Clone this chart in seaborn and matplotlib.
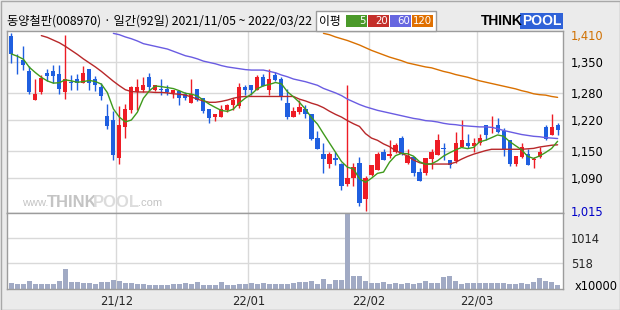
import numpy as np
import pandas as pd
import matplotlib
matplotlib.use("Agg")
import matplotlib.pyplot as plt
import seaborn as sns
from matplotlib.patches import Rectangle

# ---------------- data ----------------
title = "동양철판(008970) · 일간(92일) 2021/11/05 ~ 2022/03/22"

opens = [1408,1358,1354,1330,1263,1283,1324,1330,1323,1283,
         1305,1310,1301,1334,1310,1294,1229,1219,1134,1203,
         1242,1281,1287,1315,1287,1289,1289,1280,1285,1277,
         1257,1289,1269,1245,1227,1227,1242,1254,1251,1294,
         1298,1287,1315,1287,1319,1310,1258,1227,1238,1244,
         1233,1180,1144,1121,1135,1120,1077,1089,1124,1044,
         1097,1108,1148,1138,1147,1179,1123,1136,1103,1102,
         1133,1142,1156,1130,1128,1158,1168,1162,1168,1208,
         1201,1208,1194,1175,1121,1137,1144,1130,1137,1204,
         1187,1208]
highs = [1413,1368,1384,1341,1310,1319,1334,1343,1343,1409,
         1321,1322,1340,1334,1317,1302,1256,1239,1250,1256,
         1296,1310,1315,1324,1298,1310,1298,1287,1285,1283,
         1310,1289,1269,1245,1233,1254,1256,1269,1302,1298,
         1298,1319,1323,1334,1326,1315,1289,1248,1265,1254,
         1233,1194,1168,1148,1148,1123,1298,1124,1136,1095,
         1119,1148,1154,1175,1168,1184,1155,1136,1113,1135,
         1155,1189,1168,1130,1193,1220,1189,1179,1189,1208,
         1229,1224,1201,1175,1139,1168,1155,1137,1158,1208,
         1233,1213]
lows = [1347,1322,1332,1277,1263,1277,1306,1302,1277,1267,
        1287,1287,1301,1287,1284,1263,1199,1129,1121,1179,
        1235,1242,1281,1287,1285,1276,1275,1269,1252,1263,
        1257,1261,1236,1213,1218,1227,1238,1242,1246,1276,
        1276,1287,1296,1276,1306,1263,1221,1226,1233,1223,
        1174,1154,1101,1113,1118,1064,1072,1072,1028,1016,
        1095,1108,1129,1134,1145,1142,1121,1094,1082,1097,
        1109,1142,1129,1113,1123,1158,1156,1147,1164,1175,
        1190,1190,1138,1117,1117,1134,1118,1113,1134,1174,
        1187,1186]
closes = [1367,1357,1342,1283,1278,1314,1317,1317,1288,1310,
          1302,1302,1324,1301,1298,1273,1207,1142,1209,1245,
          1294,1294,1298,1293,1298,1287,1283,1287,1269,1269,
          1278,1263,1239,1224,1233,1244,1254,1264,1294,1287,
          1287,1315,1296,1310,1308,1272,1226,1240,1248,1232,
          1177,1154,1133,1144,1129,1073,1090,1115,1033,1090,
          1119,1144,1129,1144,1163,1144,1140,1102,1082,1135,
          1148,1175,1154,1118,1168,1175,1162,1168,1180,1186,
          1204,1192,1154,1121,1139,1159,1118,1131,1148,1178,
          1204,1198]
volumes = [110,100,90,150,95,95,100,100,150,390,
           135,130,110,110,100,145,140,185,165,115,
           110,100,105,75,85,85,80,95,100,110,
           105,130,80,80,80,130,75,70,105,100,
           110,105,110,100,95,100,100,110,130,130,
           150,95,190,95,170,180,1490,260,260,150,
           120,110,130,95,110,100,110,100,120,150,
           120,110,230,250,150,100,110,110,120,120,
           120,110,110,100,100,110,100,130,220,160,
           140,80]
ma20 = [None]*5 + [1408,1404,1398,1392,1384,
        1375,1366,1356,1347,1338,1328,1317,1306,1296,1287,
        1283,1282,1282,1282,1281,1281,1280,1278,1277,1275,
        1271,1266,1262,1259,1259,1261,1264,1268,1271,1272,
        1272,1272,1272,1272,1272,1272,1272,1272,1266,1262,
        1257,1253,1247,1239,1232,1226,1218,1211,1205,1189,
        1179,1174,1166,1160,1151,1145,1139,1130,1124,1121,
        1121,1121,1121,1121,1125,1132,1138,1143,1147,1151,
        1154,1154,1154,1154,1154,1154,1155,1156,1159,1161,
        1163,1164]
ma60 = [None]*17 + [1413,1410,1405,
        1401,1396,1390,1387,1384,1381,1378,1373,1368,1363,
        1360,1356,1351,1348,1345,1341,1338,1336,1334,1332,
        1331,1331,1331,1328,1325,1320,1316,1311,1308,1305,
        1301,1297,1290,1285,1280,1274,1266,1260,1254,1249,
        1245,1241,1238,1235,1232,1229,1226,1223,1221,1218,
        1217,1215,1212,1210,1209,1207,1206,1205,1204,1204,
        1203,1200,1196,1193,1190,1187,1185,1183,1182,1180,
        1179,1178]
ma120 = [None]*52 + [1413,1410,1405,1401,1397,1392,1387,1381,
         1375,1370,1365,1360,1356,1352,1347,1344,1341,1338,
         1336,1332,1328,1325,1321,1318,1315,1311,1307,1304,
         1301,1298,1295,1292,1289,1285,1282,1278,1276,1275,
         1272,1270]

month_labels = ["21/12", "22/01", "22/02", "22/03"]
month_start_idx = [18, 40, 60, 78]
price_ticks = [1410, 1350, 1280, 1220, 1150, 1090, 1015]
grid_prices = [1350, 1280, 1220, 1150, 1090]
vol_ticks = [1014, 518]
legend_periods = ["5", "20", "60", "120"]
legend_colors = ["#4b9a2a", "#c4302b", "#6666e0", "#e07000"]

# ---------------- style ----------------
sns.set_theme(style="white")
plt.rcParams["font.family"] = ["Noto Sans CJK KR", "DejaVu Sans"]

W, H = 620, 310
BG = "#ebebeb"
GRID = "#d9d9d9"
FRAME = "#9c9c9c"
RED = "#ee1c25"
BLUE = "#1f5fe0"
MA_COLORS = {"5": "#3f9a1c", "20": "#b8282a", "60": "#6a5ce2", "120": "#d97000"}

fig = plt.figure(figsize=(W / 100, H / 100), dpi=100, facecolor=BG)

def fx(x):
    return x / W

def fy(y):
    return 1 - y / H

L, R = 7, 563
ax = fig.add_axes([fx(L), fy(213), fx(R) - fx(L), fy(31) - fy(213)])
axv = fig.add_axes([fx(L), fy(289), fx(R) - fx(L), fy(213) - fy(289)])

n = len(closes)
idx = np.arange(n)
df = pd.DataFrame({"i": idx, "open": opens, "high": highs, "low": lows,
                   "close": closes, "vol": volumes,
                   "ma20": np.array(ma20, dtype=float),
                   "ma60": np.array(ma60, dtype=float),
                   "ma120": np.array(ma120, dtype=float)})
df["ma5"] = df["close"].rolling(5, min_periods=1).mean()

xlim = (-0.72, 91.9)

# ---- price panel ----
ax.set_facecolor("white")
for gp in grid_prices:
    ax.axhline(gp, color=GRID, lw=1, zorder=0)
for m in month_start_idx:
    ax.axvline(m - 0.5, color=GRID, lw=1, zorder=0)
    axv.axvline(m - 0.5, color=GRID, lw=1, zorder=0)

up = df["close"] >= df["open"]
colors = np.where(up, RED, BLUE)
ax.vlines(df["i"], df["low"], df["high"], colors=colors, lw=1, zorder=2)
body_bottom = np.minimum(df["open"], df["close"])
body_h = np.maximum(np.abs(df["close"] - df["open"]), 1.2)
ax.bar(df["i"], body_h, bottom=body_bottom, width=0.68, color=colors,
       linewidth=0, zorder=3)

for key, col in [("ma120", MA_COLORS["120"]), ("ma60", MA_COLORS["60"]),
                 ("ma20", MA_COLORS["20"]), ("ma5", MA_COLORS["5"])]:
    sub = df[["i", key]].dropna()
    sns.lineplot(data=sub, x="i", y=key, ax=ax, color=col, lw=1.0,
                 zorder=4, legend=False)

ax.set_xlim(*xlim)
ax.set_ylim(1011.6, 1418.3)
ax.set_xlabel("")
ax.set_ylabel("")
ax.set_xticks([])
ax.yaxis.tick_right()
ax.set_yticks(price_ticks)
ax.set_yticklabels([f"{v:,}" for v in price_ticks])
ax.tick_params(axis="y", length=0, pad=5.8, labelsize=8.3)
for lab, v in zip(ax.get_yticklabels(), price_ticks):
    lab.set_fontfamily(["DejaVu Sans"])
    if v == max(price_ticks):
        lab.set_color("#d07000")
    elif v == min(price_ticks):
        lab.set_color("#0000c8")
    else:
        lab.set_color("black")

# ---- volume panel ----
axv.set_facecolor("white")
for vt in vol_ticks:
    axv.axhline(vt, color=GRID, lw=1, zorder=0)
sns.barplot(data=df, x="i", y="vol", ax=axv, native_scale=True,
            color="#a1aac4", saturation=1, width=0.85, linewidth=0, zorder=2)
axv.set_xlim(*xlim)
axv.set_ylim(0, 1510)
axv.set_xlabel("")
axv.set_ylabel("")
axv.set_xticks([m - 0.5 for m in month_start_idx])
axv.set_xticklabels(month_labels)
axv.tick_params(axis="x", length=0, pad=4, labelsize=8.3)
axv.yaxis.tick_right()
axv.set_yticks(vol_ticks)
axv.set_yticklabels([str(v) for v in vol_ticks])
axv.tick_params(axis="y", length=0, pad=5.8, labelsize=8.3)
for lab in axv.get_xticklabels() + axv.get_yticklabels():
    lab.set_fontfamily(["DejaVu Sans"])

for a in (ax, axv):
    for s in a.spines.values():
        s.set_color(FRAME)
        s.set_linewidth(1)

fig.text(fx(575), fy(286), "x10000", fontsize=8.3, family=["DejaVu Sans"],
         ha="left", va="center", color="black")

# ---- header ----
fig.text(fx(7), fy(21), title, fontsize=8.8, ha="left", va="center",
         color="black")

# moving-average legend box
fig.patches.append(Rectangle((fx(316), fy(31)), fx(436) - fx(316), fy(11) - fy(31),
                             transform=fig.transFigure, facecolor="white",
                             edgecolor=FRAME, lw=1))
fig.text(fx(319), fy(21), "이평", fontsize=8.5, ha="left", va="center",
         color="black")
box_x = [346, 368, 390, 412]
for bx, per, col in zip(box_x, legend_periods, legend_colors):
    fig.patches.append(Rectangle((fx(bx), fy(27)), fx(21), fy(15) - fy(27),
                                 transform=fig.transFigure, facecolor=col,
                                 edgecolor="none"))
    fig.text(fx(bx + 20), fy(21.3), per, fontsize=7.3, ha="right", va="center",
             color="white", family=["DejaVu Sans"])

# THINKPOOL logo
fig.text(fx(481), fy(21), "THINK", fontsize=10, fontweight="bold",
         ha="left", va="center", color="black", family=["Liberation Sans"])
fig.patches.append(Rectangle((fx(520), fy(29)), fx(43), fy(13) - fy(29),
                             transform=fig.transFigure, facecolor="#2f62d8",
                             edgecolor="none"))
fig.text(fx(541.5), fy(21), "POOL", fontsize=10, fontweight="bold",
         ha="center", va="center", color="white", family=["Liberation Sans"])

# watermark
ax.text(0.027, 0.025, "www.", transform=ax.transAxes, fontsize=8,
        color="#c4c4c4", ha="left", va="bottom", family=["Liberation Sans"])
ax.text(0.072, 0.018, "THINK", transform=ax.transAxes, fontsize=12,
        fontweight="bold", color="#c4c4c4", ha="left", va="bottom",
        family=["Liberation Sans"])
ax.text(0.155, 0.018, "POOL", transform=ax.transAxes, fontsize=12,
        fontweight="bold", color="#dcdcdc", ha="left", va="bottom",
        family=["Liberation Sans"])
ax.text(0.236, 0.025, ".com", transform=ax.transAxes, fontsize=8,
        color="#c4c4c4", ha="left", va="bottom", family=["Liberation Sans"])

# outer frame
fig.patches.append(Rectangle((fx(0.5), fy(309.5)), fx(619), fy(0.5) - fy(309.5),
                             transform=fig.transFigure, facecolor="none",
                             edgecolor="#a8a8a8", lw=1))

fig.savefig("out.png", dpi=100, facecolor=BG)
